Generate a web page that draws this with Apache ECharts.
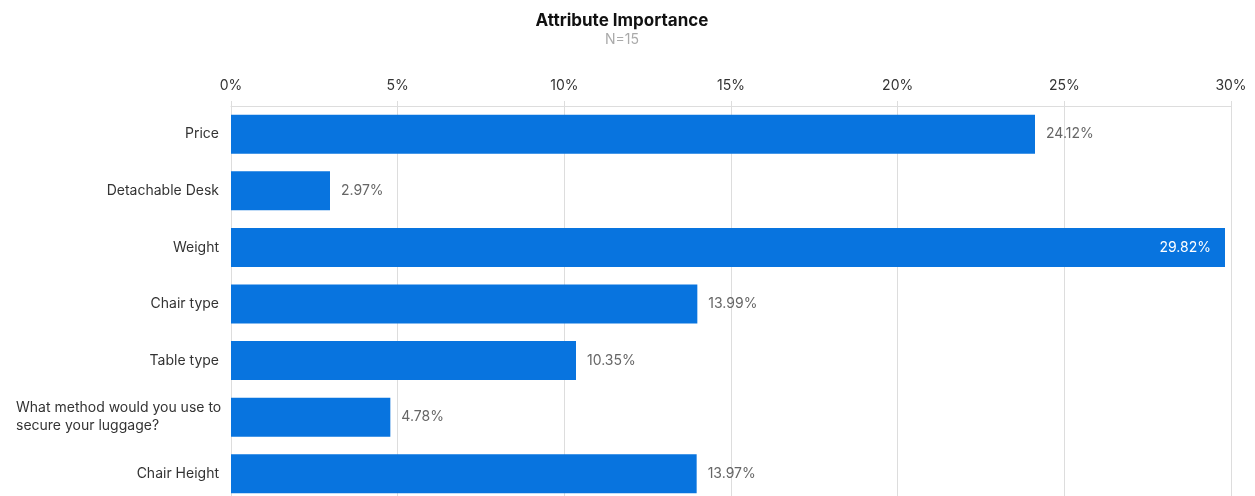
<!DOCTYPE html>
<html>
<head>
<meta charset="utf-8">
<script src="https://cdn.jsdelivr.net/npm/echarts@6/dist/echarts.min.js"></script>
<style>
  html, body { margin: 0; padding: 0; background: #fff; overflow: hidden; }
  /* the plot continues a few pixels below the visible window */
  #chart { width: 1255px; height: 510px; }
</style>
</head>
<body>
<div id="chart"></div>
<script>
// Attribute importance (share of total), N=15
const attributes = [
  'Price',
  'Detachable Desk',
  'Weight',
  'Chair type',
  'Table type',
  'What method would you use to\nsecure your luggage?',
  'Chair Height'
];
const importance = [24.12, 2.97, 29.82, 13.99, 10.35, 4.78, 13.97];
const axisTicks = [0, 5, 10, 15, 20, 25, 30];

const FONT = 'Inter, "Noto Sans", sans-serif';
const BAR = '#0874df';

const chart = echarts.init(document.getElementById('chart'));

const barData = importance.map(function (v, i) {
  const item = { value: v };
  // the longest bar carries its label inside, in white
  if (v === Math.max.apply(null, importance)) {
    item.label = { position: 'insideRight', color: '#fff', distance: 14 };
  }
  return item;
});

chart.setOption({
  animation: false,
  title: {
    text: 'Attribute Importance',
    subtext: 'N=15',
    left: 617,
    top: 7,
    textAlign: 'center',
    itemGap: 4,
    textStyle: { fontFamily: FONT, fontSize: 17, fontWeight: 'bold', color: '#111' },
    subtextStyle: { fontFamily: FONT, fontSize: 14, color: '#aaa' }
  },
  grid: { left: 231, width: 1000, top: 106, height: 396, containLabel: false },
  xAxis: {
    type: 'value',
    position: 'top',
    min: axisTicks[0],
    max: axisTicks[axisTicks.length - 1],
    interval: axisTicks[1] - axisTicks[0],
    axisLine: { show: true, lineStyle: { color: '#ddd' } },
    axisTick: { show: true, length: 5, lineStyle: { color: '#ddd' } },
    splitLine: { show: true, lineStyle: { color: '#ddd' } },
    axisLabel: {
      margin: 13,
      fontFamily: FONT, fontSize: 14, color: '#333',
      formatter: function (v) { return v + '%'; }
    }
  },
  yAxis: {
    type: 'category',
    inverse: true,
    data: attributes,
    axisLine: { show: false },
    axisTick: { show: false },
    axisLabel: {
      margin: 12,
      fontFamily: FONT, fontSize: 14, color: '#333', lineHeight: 18,
      formatter: function (v) {
        if (v.indexOf('\n') < 0) return v;
        return v.split('\n').map(function (s) { return '{l|' + s + '}'; }).join('\n');
      },
      rich: {
        l: { width: 203, align: 'left', fontFamily: FONT, fontSize: 14, color: '#333', lineHeight: 18 }
      }
    }
  },
  series: [{
    type: 'bar',
    data: barData,
    barWidth: 39,
    itemStyle: { color: BAR },
    label: {
      show: true,
      position: 'right',
      distance: 11,
      fontFamily: FONT, fontSize: 14, color: '#666',
      formatter: function (p) { return p.value.toFixed(2) + '%'; }
    }
  }]
});
</script>
</body>
</html>
